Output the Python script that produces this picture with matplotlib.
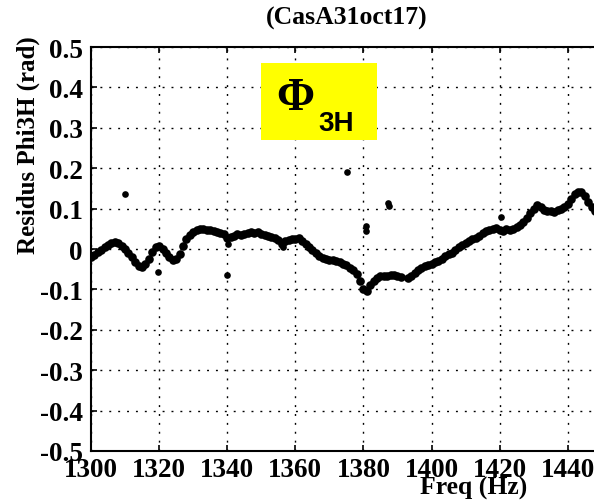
import matplotlib
matplotlib.use("Agg")
import matplotlib.pyplot as plt
from matplotlib.patches import Rectangle

# ---- data ----
freq = [1300, 1301, 1302, 1303, 1304, 1305, 1306, 1307, 1308, 1309,
        1310, 1311, 1312, 1313, 1314, 1315, 1316, 1317, 1318, 1319,
        1320, 1321, 1322, 1323, 1324, 1325, 1326, 1327, 1328, 1329,
        1330, 1331, 1332, 1333, 1334, 1335, 1336, 1337, 1338, 1339,
        1340, 1341, 1342, 1343, 1344, 1345, 1346, 1347, 1348, 1349,
        1350, 1351, 1352, 1353, 1354, 1355, 1356, 1357, 1358, 1359,
        1360, 1361, 1362, 1363, 1364, 1365, 1366, 1367, 1368, 1369,
        1370, 1371, 1372, 1373, 1374, 1375, 1376, 1377, 1378, 1379,
        1380, 1381, 1382, 1383, 1384, 1385, 1386, 1387, 1388, 1389,
        1390, 1391, 1393, 1394, 1395, 1396, 1397, 1398, 1399,
        1400, 1401, 1402, 1403, 1404, 1405, 1406, 1407, 1408, 1409,
        1410, 1411, 1412, 1413, 1414, 1415, 1416, 1417, 1418, 1419,
        1420, 1421, 1422, 1423, 1424, 1425, 1426, 1427, 1428, 1429,
        1430, 1431, 1432, 1433, 1434, 1435, 1436, 1437, 1438, 1439,
        1440, 1441, 1442, 1443, 1444, 1445, 1446, 1447, 1448]
resid = [-0.020, -0.015, -0.008, -0.002, 0.005, 0.010, 0.015, 0.017, 0.014, 0.008,
         0.000, -0.010, -0.020, -0.032, -0.043, -0.045, -0.038, -0.025, -0.008, 0.004,
         0.008, 0.000, -0.010, -0.020, -0.028, -0.025, -0.012, 0.008, 0.025, 0.035,
         0.042, 0.048, 0.050, 0.049, 0.047, 0.046, 0.044, 0.043, 0.040, 0.036,
         0.028, 0.030, 0.033, 0.036, 0.034, 0.038, 0.040, 0.043, 0.040, 0.042,
         0.036, 0.035, 0.033, 0.030, 0.028, 0.022, 0.012, 0.020, 0.022, 0.025,
         0.024, 0.027, 0.020, 0.012, 0.005, -0.003, -0.010, -0.017, -0.022, -0.025,
         -0.026, -0.028, -0.030, -0.033, -0.036, -0.040, -0.046, -0.052, -0.062, -0.078,
         -0.100, -0.105, -0.090, -0.078, -0.072, -0.068, -0.067, -0.066, -0.065, -0.064,
         -0.068, -0.070, -0.072, -0.068, -0.060, -0.052, -0.047, -0.043, -0.040,
         -0.036, -0.033, -0.030, -0.024, -0.018, -0.013, -0.010, -0.003, 0.004, 0.010,
         0.015, 0.020, 0.025, 0.027, 0.032, 0.040, 0.045, 0.048, 0.050, 0.052,
         0.048, 0.045, 0.050, 0.047, 0.050, 0.055, 0.060, 0.068, 0.076, 0.090,
         0.100, 0.108, 0.105, 0.097, 0.095, 0.093, 0.092, 0.096, 0.100, 0.105,
         0.112, 0.125, 0.135, 0.142, 0.140, 0.130, 0.117, 0.105, 0.095]

out_freq = [1310.0, 1319.8, 1340.0, 1340.2, 1375.2, 1380.8, 1380.9, 1387.2, 1387.6, 1420.5, 1356.5]
out_resid = [0.137, -0.058, -0.064, 0.012, 0.190, 0.058, 0.045, 0.115, 0.107, 0.078, 0.005]

xticks = [1300, 1320, 1340, 1360, 1380, 1400, 1420, 1440]
yticks = [-0.5, -0.4, -0.3, -0.2, -0.1, 0, 0.1, 0.2, 0.3, 0.4, 0.5]
ytick_labels = ["-0.5", "-0.4", "-0.3", "-0.2", "-0.1", "0", "0.1", "0.2", "0.3", "0.4", "0.5"]

W, H = 594, 502
fig = plt.figure(figsize=(W / 100, H / 100), dpi=100)
ax_left, ax_right, ax_top, ax_bot = 91, 601.8, 48, 452
ax = fig.add_axes([ax_left / W, 1 - ax_bot / H, (ax_right - ax_left) / W, (ax_bot - ax_top) / H])

ax.plot(freq, resid, 'o', color='black', markersize=6.2, markeredgewidth=0)
ax.plot(out_freq, out_resid, 'o', color='black', markersize=4.8, markeredgewidth=0)

ax.set_xlim(1300, 1450)
ax.set_ylim(-0.5, 0.5)
ax.set_xticks(xticks)
ax.set_yticks(yticks)
ax.set_yticklabels(ytick_labels)

serif = 'Liberation Serif'
for lab in ax.get_xticklabels() + ax.get_yticklabels():
    lab.set_fontfamily(serif)
    lab.set_fontweight('bold')
    lab.set_fontsize(19.5)

ax.tick_params(direction='in', length=4, width=1.2, top=True, right=True)
ax.tick_params(axis='y', pad=6)
ax.tick_params(axis='x', pad=4)
for s in ax.spines.values():
    s.set_linewidth(1.5)

ax.grid(True, color='black', linestyle=(0, (1.4, 5.0)), linewidth=1.0)

fig.text(347 / W, 1 - 18 / H, "(CasA31oct17)", ha='center', va='center',
         fontfamily=serif, fontweight='bold', fontsize=18.5)
fig.text(474 / W, 1 - 488 / H, "Freq (Hz)", ha='center', va='center',
         fontfamily=serif, fontweight='bold', fontsize=18.5)
fig.text(28 / W, 1 - 145 / H, "Residus Phi3H (rad)", ha='center', va='center',
         rotation=90, fontfamily=serif, fontweight='bold', fontsize=18)

# yellow label box
fig.patches.append(Rectangle((261 / W, 1 - 141 / H), (377 - 261) / W, (141 - 64) / H,
                             transform=fig.transFigure, facecolor='#ffff00',
                             edgecolor='none', zorder=3))
fig.text(295 / W, 1 - 99 / H, "Φ", ha='center', va='center',
         fontfamily=serif, fontweight='bold', fontsize=33, zorder=4)
fig.text(336 / W, 1 - 124 / H, "3H", ha='center', va='center',
         fontfamily='Liberation Sans', fontweight='bold', fontsize=20, zorder=4)

fig.savefig("out.png", dpi=100)
